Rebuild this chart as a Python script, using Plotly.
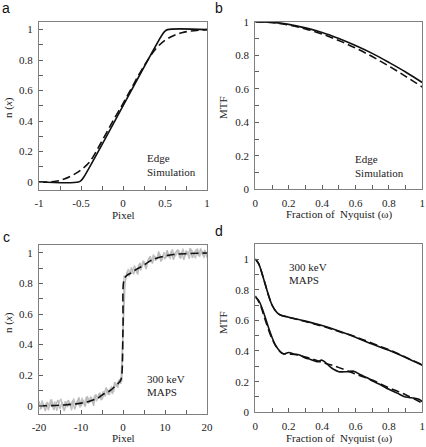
import plotly.graph_objects as go

# ---------------- data ----------------
# panel a: edge simulation
a_solid_x = [-1, -0.53, -0.5, -0.47, 0.47, 0.5, 0.53, 1]
a_solid_y = [0, 0, 0.01, 0.03, 0.97, 0.99, 1, 1]
a_dash_x = [-1, -0.8, -0.7, -0.6, -0.5, -0.4, -0.3, -0.2, -0.1, 0, 0.1, 0.2, 0.3, 0.4, 0.5, 0.6, 0.7, 0.8, 1]
a_dash_y = [0, 0.005, 0.02, 0.045, 0.08, 0.13, 0.22, 0.32, 0.42, 0.515, 0.615, 0.715, 0.805, 0.88, 0.93, 0.96, 0.98, 0.99, 1]

# panel b: MTF of edge simulation
b_x = [0, 0.1, 0.2, 0.3, 0.4, 0.5, 0.6, 0.7, 0.8, 0.9, 1.0]
b_solid = [1.0, 0.996, 0.984, 0.963, 0.936, 0.900, 0.858, 0.811, 0.757, 0.700, 0.637]
b_dash = [1.0, 0.995, 0.980, 0.957, 0.926, 0.888, 0.843, 0.792, 0.735, 0.674, 0.610]

# panel c: measured edge (gray, two interleaved samplings) and fit (dashed)
c_data_x = [-20 + 0.5 * i for i in range(81)]
c_data_y = [0.030, -0.020, 0.015, -0.035, 0.025, -0.009, 0.041, -0.028, 0.007, 0.038,
            -0.021, 0.024, -0.035, 0.016, 0.037, -0.007, 0.035, -0.023, 0.018, 0.055,
            -0.003, 0.035, -0.007, 0.062, 0.020, 0.055, 0.000, 0.075, 0.045, 0.085,
            0.040, 0.087, 0.120, 0.072, 0.115, 0.077, 0.155, 0.127, 0.170, 0.145,
            0.500,
            0.805, 0.880, 0.847, 0.905, 0.860, 0.900, 0.858, 0.935, 0.907, 0.945,
            0.895, 0.955, 0.978, 0.930, 0.980, 0.955, 1.010, 0.944, 0.982, 0.960,
            1.018, 0.971, 1.013, 0.955, 1.001, 1.022, 0.968, 1.009, 0.955, 1.015,
            0.986, 1.032, 0.967, 1.003, 1.023, 0.979, 1.029, 0.985, 1.020, 0.970]
c_data2_x = [-19.75 + 0.5 * i for i in range(80)]
c_data2_y = [-0.025, 0.035, -0.015, 0.020, -0.030, 0.040, -0.012, 0.028, -0.033, 0.022,
             0.045, -0.018, 0.030, -0.010, 0.026, -0.030, 0.048, 0.002, 0.040, -0.012,
             0.052, 0.005, 0.058, 0.012, 0.060, 0.018, 0.068, 0.030, 0.080, 0.035,
             0.095, 0.060, 0.110, 0.070, 0.128, 0.090, 0.150, 0.118, 0.175, 0.160,
             0.850, 0.840, 0.895, 0.862, 0.880, 0.918, 0.870, 0.925, 0.885, 0.950,
             0.915, 0.932, 0.968, 0.940, 0.990, 0.948, 0.975, 0.995, 0.950, 1.005,
             0.968, 0.998, 0.960, 1.025, 0.975, 0.990, 1.020, 0.962, 1.028, 0.978,
             1.012, 0.962, 1.025, 0.990, 0.965, 1.030, 0.975, 1.015, 0.968, 1.010]
c_fit_x = [-20, -18, -16, -14, -12, -10, -8, -6, -5, -4, -3, -2, -1, -0.5, 0, 0.3,
           1, 2, 3, 4, 5, 6, 7, 8, 10, 12, 15, 20]
c_fit_y = [0.0, 0.0, 0.002, 0.005, 0.01, 0.017, 0.03, 0.05, 0.07, 0.085, 0.1, 0.125, 0.15, 0.17, 0.5, 0.83,
           0.855, 0.87, 0.89, 0.905, 0.92, 0.94, 0.955, 0.965, 0.98, 0.99, 0.995, 1.0]

# panel d: MTF of 300 keV MAPS
d_up_x = [0, 0.02, 0.05, 0.08, 0.1, 0.13, 0.15, 0.2, 0.3, 0.4, 0.5, 0.6, 0.7, 0.8, 0.9, 1.0]
d_up_y = [1.0, 0.97, 0.87, 0.76, 0.70, 0.65, 0.635, 0.62, 0.595, 0.566, 0.53, 0.49, 0.445, 0.405, 0.357, 0.307]
d_up_dash_y = [1.0, 0.97, 0.87, 0.76, 0.70, 0.65, 0.635, 0.62, 0.592, 0.562, 0.527, 0.493, 0.45, 0.408, 0.36, 0.31]
d_lo_x = [0, 0.02, 0.05, 0.08, 0.1, 0.12, 0.15, 0.17, 0.2, 0.23, 0.26, 0.3, 0.33, 0.37, 0.4, 0.44,
          0.47, 0.5, 0.55, 0.59, 0.63, 0.67, 0.71, 0.75, 0.8, 0.85, 0.89, 0.92, 0.95, 0.98, 1.0]
d_lo_y = [0.75, 0.73, 0.65, 0.55, 0.49, 0.44, 0.395, 0.38, 0.39, 0.38, 0.375, 0.355, 0.345, 0.33, 0.34, 0.305,
          0.28, 0.265, 0.265, 0.268, 0.245, 0.225, 0.20, 0.18, 0.15, 0.125, 0.103, 0.097, 0.093, 0.085, 0.07]
d_lo_dash_x = [0, 0.03, 0.06, 0.1, 0.13, 0.16, 0.2, 0.25, 0.3, 0.35, 0.4, 0.45, 0.48, 0.6, 0.7, 0.8, 0.9, 1.0]
d_lo_dash_y = [0.76, 0.70, 0.60, 0.48, 0.42, 0.385, 0.38, 0.375, 0.36, 0.345, 0.325, 0.31, 0.30, 0.25, 0.21, 0.16, 0.115, 0.06]

# ---------------- figure ----------------
SERIF = "Liberation Serif"
SANS = "Liberation Sans"
BLK = "#111111"
DASH = "8px,4px"

fig = go.Figure()

def line(x, y, ax, dash=None, color=BLK, width=1.6, shape="linear"):
    fig.add_trace(go.Scatter(x=x, y=y, mode="lines", xaxis="x" + ax, yaxis="y" + ax,
                             line=dict(color=color, width=width, dash=dash, shape=shape),
                             showlegend=False, hoverinfo="skip"))

# panel c gray data first
line(c_data2_x, c_data2_y, "3", color="#c4c4c4", width=1.4)
line(c_data_x, c_data_y, "3", color="#bbbbbb", width=1.4)
line(c_fit_x, c_fit_y, "3", dash=DASH, shape="spline")

line(a_solid_x, a_solid_y, "", shape="spline")
line(a_dash_x, a_dash_y, "", dash=DASH, shape="spline")

line(b_x, b_solid, "2", shape="spline")
line(b_x, b_dash, "2", dash=DASH, shape="spline")

line(d_up_x, d_up_y, "4", shape="spline")
line(d_up_x, d_up_dash_y, "4", dash=DASH, shape="spline")
line(d_lo_x, d_lo_y, "4", shape="spline")
line(d_lo_dash_x, d_lo_dash_y, "4", dash=DASH, shape="spline")

W, H = 426, 447
def px(x):
    return x / W
def py(y):
    return 1 - y / H

axis_common = dict(showline=True, linecolor="#808080", linewidth=1, mirror=True,
                   ticks="inside", ticklen=4, tickcolor="#606060", tickwidth=1,
                   showgrid=False, zeroline=False, automargin=False,
                   tickfont=dict(family=SERIF, size=11, color="#222222"),
                   ticklabelstandoff=3)

def minor(d):
    return dict(ticks="inside", ticklen=4, tickcolor="#606060", dtick=d, showgrid=False)

y01_vals = [0, 0.2, 0.4, 0.6, 0.8, 1]
y01_text = ["0", "0.2", "0.4", "0.6", "0.8", "1"]
x_frac_vals = [0, 0.2, 0.4, 0.6, 0.8, 1]
x_frac_text = ["0", "0.2", "0.4", "0.6", "0.8", "1"]

fig.update_layout(
    width=W, height=H, margin=dict(l=0, r=0, t=0, b=0, autoexpand=False),
    paper_bgcolor="white", plot_bgcolor="white",
    xaxis=dict(axis_common, domain=[px(39), px(207)], anchor="y", range=[-1, 1],
               tickvals=[-1, -0.5, 0, 0.5, 1], ticktext=["-1", "-0.5", "0", "0.5", "1"],
               minor=dict(minor(0.25), tick0=-1)),
    yaxis=dict(axis_common, domain=[py(190), py(22)], anchor="x", range=[-0.052, 1.05],
               tickvals=y01_vals, ticktext=y01_text, minor=dict(minor(0.1), tick0=0)),
    xaxis2=dict(axis_common, domain=[px(255.3), px(422.3)], anchor="y2", range=[0, 1],
                tickvals=x_frac_vals, ticktext=x_frac_text, minor=dict(minor(0.1), tick0=0)),
    yaxis2=dict(axis_common, domain=[py(189.3), py(21.7)], anchor="x2", range=[0, 1],
                tickvals=y01_vals, ticktext=y01_text, minor=dict(minor(0.1), tick0=0)),
    xaxis3=dict(axis_common, domain=[px(39), px(207)], anchor="y3", range=[-20, 20],
                tickvals=[-20, -10, 0, 10, 20], ticktext=["-20", "-10", "0", "10", "20"],
                minor=dict(minor(5), tick0=-20)),
    yaxis3=dict(axis_common, domain=[py(413.7), py(245.3)], anchor="x3", range=[-0.052, 1.05],
                tickvals=y01_vals, ticktext=y01_text, minor=dict(minor(0.1), tick0=0)),
    xaxis4=dict(axis_common, domain=[px(255.3), px(422.3)], anchor="y4", range=[0, 1],
                tickvals=x_frac_vals, ticktext=x_frac_text, minor=dict(minor(0.1), tick0=0)),
    yaxis4=dict(axis_common, domain=[py(412.3), py(243.7)], anchor="x4", range=[0, 1.1],
                tickvals=y01_vals, ticktext=y01_text, minor=dict(minor(0.1), tick0=0)),
)

ann = []
def txt(x, y, s, size=11, family=SERIF, angle=0, xanchor="center", color="#222222"):
    ann.append(dict(x=px(x), y=py(y), xref="paper", yref="paper", text=s, showarrow=False,
                    textangle=angle, xanchor=xanchor, yanchor="middle",
                    font=dict(family=family, size=size, color=color)))

# panel letters
txt(6, 8, "a", size=14, family=SANS, color="#111111")
txt(219, 8, "b", size=14, family=SANS, color="#111111")
txt(6, 237, "c", size=14, family=SANS, color="#111111")
txt(219, 231, "d", size=14, family=SANS, color="#111111")

# axis titles
txt(123, 215, "Pixel")
txt(339, 215, "Fraction of  Nyquist (ω)")
txt(123, 438, "Pixel")
txt(339, 438, "Fraction of  Nyquist (ω)")
txt(8, 108, "n (<i>x</i>)", angle=-90)
txt(223, 108, "MTF", angle=-90)
txt(8, 323, "n (<i>x</i>)", angle=-90)
txt(223, 323, "MTF", angle=-90)

# in-plot labels
txt(145, 158, "Edge", xanchor="left")
txt(145, 172, "Simulation", xanchor="left")
txt(353, 159, "Edge", xanchor="left")
txt(353, 173, "Simulation", xanchor="left")
txt(145, 379, "300 keV", xanchor="left")
txt(145, 392, "MAPS", xanchor="left")
txt(287, 267, "300 keV", xanchor="left")
txt(287, 280, "MAPS", xanchor="left")

fig.update_layout(annotations=ann)
fig.write_html("out.html", config={"displayModeBar": False},
               post_script="document.body.style.margin='0';document.body.style.padding='0';document.body.style.overflow='hidden';")
